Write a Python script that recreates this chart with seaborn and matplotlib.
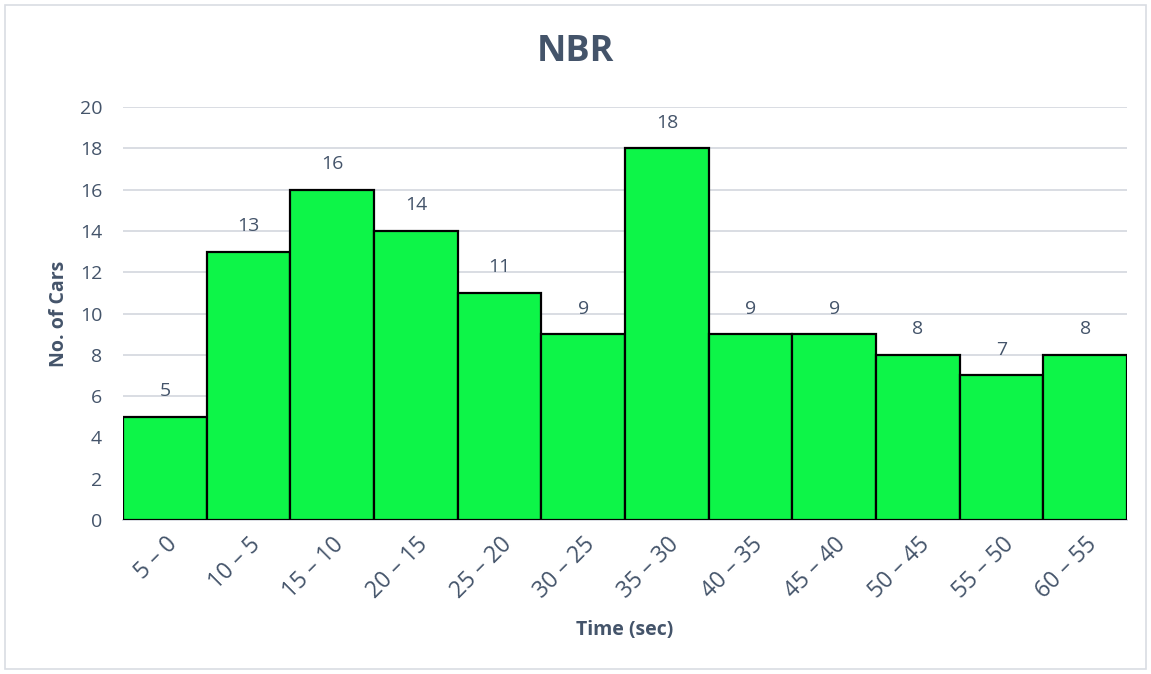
import matplotlib
matplotlib.use("Agg")
import matplotlib.pyplot as plt
from matplotlib.patches import Rectangle
import seaborn as sns
import pandas as pd

# Time bins and car counts
time_bins = ["5 – 0", "10 – 5", "15 – 10", "20 – 15", "25 – 20", "30 – 25",
             "35 – 30", "40 – 35", "45 – 40", "50 – 45", "55 – 50", "60 – 55"]
car_counts = [5, 13, 16, 14, 11, 9, 18, 9, 9, 8, 7, 8]
y_ticks = [0, 2, 4, 6, 8, 10, 12, 14, 16, 18, 20]

sns.set_theme(style="white")
plt.rcParams["font.family"] = ["Open Sans", "DejaVu Sans"]

text_color = "#44546A"
bar_color = "#0DF548"
grid_color = "#D9DDE3"

df = pd.DataFrame({"time": time_bins, "cars": car_counts})

fig = plt.figure(figsize=(11.51, 6.74), dpi=100)
ax = fig.add_axes([0.1069, 0.2285, 0.8723, 0.6127])

sns.barplot(data=df, x="time", y="cars", color=bar_color, saturation=1,
            width=1.0, edgecolor="black", linewidth=1.6, ax=ax, zorder=3)

ax.set_ylim(0, 20)
ax.set_xlim(-0.5, len(time_bins) - 0.5)
ax.set_yticks(y_ticks)
ax.yaxis.grid(True, color=grid_color, linewidth=1.4, zorder=0)
ax.set_axisbelow(True)
for side in ["top", "right", "left"]:
    ax.spines[side].set_visible(False)
ax.spines["bottom"].set_color(grid_color)
ax.spines["bottom"].set_linewidth(1.4)

ax.tick_params(axis="y", length=0, labelsize=14, colors=text_color, pad=15)
ax.tick_params(axis="x", length=0, labelsize=16.5, colors=text_color, pad=9)
plt.setp(ax.get_xticklabels(), rotation=45, ha="right", rotation_mode="anchor")

for i, v in enumerate(car_counts):
    ax.text(i, v + 0.8, str(v), ha="center", va="bottom", fontsize=14, color=text_color)

ax.set_xlabel("Time (sec)", fontsize=14, fontweight="bold", color=text_color, labelpad=12)
ax.set_ylabel("No. of Cars", fontsize=14, fontweight="bold", color=text_color, labelpad=8)
fig.suptitle("NBR", y=0.95, fontsize=26, fontweight="bold", color=text_color)

# Outer chart border
fig.patches.append(Rectangle((5 / 1151, 5 / 674), 1 - 10 / 1151, 1 - 10 / 674,
                             transform=fig.transFigure, fill=False,
                             edgecolor=grid_color, linewidth=1.2))

fig.savefig("out.png", dpi=100)
